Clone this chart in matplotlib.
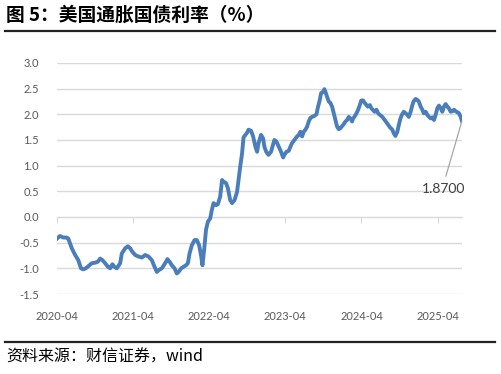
import pandas as pd
import matplotlib
matplotlib.use("Agg")
import matplotlib.pyplot as plt
import matplotlib.dates as mdates
from matplotlib.lines import Line2D

plt.rcParams['font.family'] = ['Lato', 'DejaVu Sans']

# 美国通胀国债利率（%），按图形读数
dates = [
    "2020-04-01", "2020-04-15", "2020-05-01", "2020-05-18", "2020-05-25", "2020-06-11",
    "2020-06-27", "2020-07-12", "2020-07-25", "2020-08-05", "2020-08-17", "2020-08-29",
    "2020-09-15", "2020-10-01", "2020-10-14", "2020-10-25", "2020-11-05", "2020-11-18",
    "2020-12-01", "2020-12-12", "2020-12-23", "2021-01-01", "2021-01-13", "2021-01-29",
    "2021-02-06", "2021-02-22", "2021-03-07", "2021-03-18", "2021-03-29", "2021-04-11",
    "2021-04-27", "2021-05-13", "2021-05-29", "2021-06-14", "2021-06-30", "2021-07-13",
    "2021-07-24", "2021-08-04", "2021-08-17", "2021-09-02", "2021-09-13", "2021-09-23",
    "2021-10-04", "2021-10-17", "2021-10-28", "2021-11-05", "2021-11-18", "2021-11-29",
    "2021-12-11", "2021-12-20", "2021-12-28", "2022-01-08", "2022-01-21", "2022-02-01",
    "2022-02-12", "2022-02-22", "2022-02-28", "2022-03-08", "2022-03-17", "2022-03-26",
    "2022-04-06", "2022-04-14", "2022-04-22", "2022-05-04", "2022-05-13", "2022-05-24",
    "2022-06-02", "2022-06-09", "2022-06-21", "2022-06-30", "2022-07-11", "2022-07-20",
    "2022-08-01", "2022-08-13", "2022-08-20", "2022-08-28", "2022-09-06", "2022-09-13",
    "2022-09-22", "2022-09-30", "2022-10-07", "2022-10-19", "2022-10-29", "2022-11-09",
    "2022-11-17", "2022-11-24", "2022-12-06", "2022-12-16", "2022-12-22", "2022-12-31",
    "2023-01-11", "2023-01-23", "2023-02-01", "2023-02-08", "2023-02-18", "2023-03-01",
    "2023-03-12", "2023-03-22", "2023-03-28", "2023-04-07", "2023-04-18", "2023-04-26",
    "2023-05-04", "2023-05-15", "2023-05-28", "2023-06-05", "2023-06-13", "2023-06-21",
    "2023-06-29", "2023-07-07", "2023-07-15", "2023-07-23", "2023-07-31", "2023-08-08",
    "2023-08-19", "2023-08-29", "2023-09-04", "2023-09-14", "2023-09-20", "2023-09-30",
    "2023-10-06", "2023-10-11", "2023-10-19", "2023-10-27", "2023-11-04", "2023-11-12",
    "2023-11-20", "2023-11-28", "2023-12-06", "2023-12-14", "2023-12-22", "2023-12-30",
    "2024-01-07", "2024-01-15", "2024-01-23", "2024-01-31", "2024-02-08", "2024-02-16",
    "2024-02-21", "2024-02-27", "2024-03-08", "2024-03-16", "2024-03-24", "2024-03-31",
    "2024-04-09", "2024-04-15", "2024-04-25", "2024-05-01", "2024-05-11", "2024-05-18",
    "2024-05-25", "2024-06-03", "2024-06-12", "2024-06-20", "2024-06-28", "2024-07-10",
    "2024-07-21", "2024-08-03", "2024-08-15", "2024-08-27", "2024-09-03", "2024-09-11",
    "2024-09-20", "2024-09-27", "2024-10-05", "2024-10-13", "2024-10-21", "2024-10-30",
    "2024-11-07", "2024-11-14", "2024-11-23", "2024-12-01", "2024-12-08", "2024-12-17",
    "2024-12-25", "2025-01-01", "2025-01-10", "2025-01-18", "2025-01-25", "2025-02-03",
    "2025-02-11", "2025-02-19", "2025-02-27", "2025-03-07", "2025-03-15", "2025-03-23",
    "2025-03-31", "2025-04-08", "2025-04-16", "2025-04-24", "2025-05-02", "2025-05-10",
    "2025-05-18", "2025-05-25", "2025-06-03", "2025-06-11", "2025-06-19", "2025-06-27",
    "2025-07-05", "2025-07-13", "2025-07-21", "2025-07-27",
]
values = [
    -0.42, -0.37, -0.40, -0.40, -0.42, -0.61,
    -0.74, -0.84, -1.00, -1.02, -1.00, -0.96,
    -0.90, -0.89, -0.87, -0.81, -0.84, -0.90,
    -0.97, -1.00, -0.92, -0.97, -1.00, -0.90,
    -0.71, -0.61, -0.57, -0.61, -0.68, -0.74,
    -0.77, -0.79, -0.74, -0.77, -0.84, -0.97,
    -1.07, -1.03, -1.00, -0.90, -0.82, -0.87,
    -0.94, -1.00, -1.10, -1.07, -1.00, -0.97,
    -0.94, -0.90, -0.71, -0.55, -0.45, -0.45,
    -0.55, -0.77, -0.94, -0.64, -0.25, -0.09,
    -0.03, 0.14, 0.27, 0.23, 0.25, 0.40,
    0.72, 0.69, 0.66, 0.56, 0.33, 0.27,
    0.33, 0.49, 0.72, 0.98, 1.24, 1.55,
    1.60, 1.64, 1.70, 1.68, 1.57, 1.37,
    1.27, 1.44, 1.60, 1.53, 1.37, 1.27,
    1.21, 1.27, 1.40, 1.50, 1.47, 1.37,
    1.27, 1.16, 1.21, 1.27, 1.29, 1.37,
    1.44, 1.50, 1.57, 1.60, 1.66, 1.57,
    1.66, 1.70, 1.76, 1.86, 1.93, 1.95,
    1.97, 2.00, 2.12, 2.28, 2.41, 2.44,
    2.49, 2.44, 2.34, 2.25, 2.22, 2.15,
    2.02, 1.89, 1.76, 1.71, 1.73, 1.77,
    1.81, 1.86, 1.89, 1.95, 1.92, 1.86,
    1.92, 1.95, 2.02, 2.09, 2.18, 2.27,
    2.27, 2.23, 2.18, 2.15, 2.18, 2.12,
    2.09, 2.05, 2.09, 2.02, 1.99, 1.95,
    1.89, 1.82, 1.75, 1.70, 1.63, 1.58,
    1.66, 1.79, 1.92, 2.00, 2.05, 2.02,
    1.99, 1.95, 2.05, 2.18, 2.26, 2.30,
    2.28, 2.25, 2.15, 2.09, 2.02, 2.05,
    1.99, 1.95, 1.92, 1.94, 1.89, 1.99,
    2.12, 2.17, 2.12, 2.05, 2.15, 2.20,
    2.15, 2.12, 2.05, 2.06, 2.09, 2.06,
    2.04, 2.02, 1.95, 1.87,
]
yticks = [-1.5, -1.0, -0.5, 0.0, 0.5, 1.0, 1.5, 2.0, 2.5, 3.0]
xtick_dates = ["2020-04-01", "2021-04-01", "2022-04-01", "2023-04-01", "2024-04-01", "2025-04-01"]

title = "图 5：美国通胀国债利率（%）"
source = "资料来源：财信证券，wind"
last_label = "1.8700"

LINE_COLOR = "#4A7EBB"
GRID_COLOR = "#D9D9D9"
TEXT_COLOR = "#595959"

x = pd.to_datetime(dates)

fig = plt.figure(figsize=(5.01, 3.74), dpi=100)
ax = fig.add_axes([0.1138, 0.2139, 0.8082, 0.6177])

ax.plot(x, values, color=LINE_COLOR, lw=2.8, solid_joinstyle='round', zorder=3)

ax.set_ylim(-1.5, 3.0)
ax.set_yticks(yticks)
ax.yaxis.set_major_formatter(matplotlib.ticker.FormatStrFormatter('%.1f'))
ax.set_xlim(x[0], x[-1])
ax.set_xticks(pd.to_datetime(xtick_dates))
ax.xaxis.set_major_formatter(mdates.DateFormatter('%Y-%m'))

ax.grid(axis='y', color=GRID_COLOR, lw=1.0)
ax.set_axisbelow(True)
for s in ax.spines.values():
    s.set_visible(False)
ax.tick_params(axis='both', length=0, labelsize=8, labelcolor=TEXT_COLOR)
ax.tick_params(axis='y', pad=13)
ax.tick_params(axis='x', pad=12)

# 零轴及刻度
zero_frac = (0 - yticks[0]) / (yticks[-1] - yticks[0])
sec = ax.secondary_xaxis(zero_frac)
sec.set_xticks(pd.to_datetime(xtick_dates))
sec.tick_params(axis='x', direction='out', length=4, color=GRID_COLOR, labelbottom=False)
sec.xaxis.set_major_formatter(matplotlib.ticker.NullFormatter())
sec.spines['bottom'].set_color(GRID_COLOR)

# 最新值标注
ax.annotate(last_label, xy=(x[-1], values[-1]), xytext=(-13, -49),
            textcoords='offset points', ha='center', va='center',
            fontsize=10, color='#404040',
            arrowprops=dict(arrowstyle='-', color='#A6A6A6', lw=0.9,
                            relpos=(0.5, 1.0), shrinkA=3, shrinkB=0))

# 标题与来源
fig.text(0.012, 0.958, title, fontsize=13.5, fontweight='bold',
         family=['Noto Sans CJK SC', 'DejaVu Sans'], va='center', ha='left', color='black')
fig.add_artist(Line2D([0.01, 0.988], [0.917, 0.917], color='#222222', lw=1.6,
                     transform=fig.transFigure))
fig.add_artist(Line2D([0.01, 0.988], [0.086, 0.086], color='#222222', lw=1.6,
                     transform=fig.transFigure))
fig.text(0.012, 0.045, source, fontsize=11.5, style='italic',
         family=['Noto Sans CJK SC', 'DejaVu Serif'], va='center', ha='left', color='black')

fig.savefig("out.png", dpi=100)
